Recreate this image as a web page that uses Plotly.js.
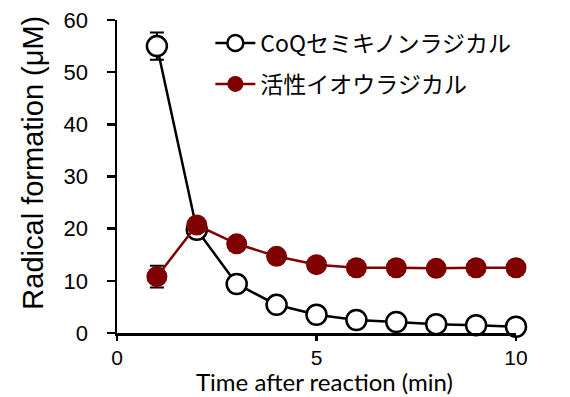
<!DOCTYPE html>
<html>
<head>
<meta charset="utf-8">
<script src="https://cdn.plot.ly/plotly-3.0.1.min.js"></script>
<style>html,body{margin:0;padding:0;background:#fff;}#chart{width:570px;height:397px;}</style>
</head>
<body>
<div id="chart"></div>
<script>
const timeMin = [1, 2, 3, 4, 5, 6, 7, 8, 9, 10];
const coqName = "CoQセミキノンラジカル";
const coqValues = [55.0, 19.8, 9.4, 5.4, 3.5, 2.5, 2.1, 1.7, 1.5, 1.2];
const coqErrors = [2.6, 0, 0, 0, 0, 0, 0, 0, 0, 0];
const sulfurName = "活性イオウラジカル";
const sulfurValues = [10.8, 20.7, 17.1, 14.7, 13.1, 12.5, 12.5, 12.4, 12.5, 12.5];
const sulfurErrors = [2.1, 0, 0, 0, 0, 0, 0, 0, 0, 0];
const xTicks = [0, 5, 10];
const yTicks = [0, 10, 20, 30, 40, 50, 60];
const xTitle = 'Time after reaction (min)';
const yTitle = 'Radical formation (μM)';

const traces = [
  {
    x: timeMin, y: coqValues, name: coqName, type: 'scatter', mode: 'lines+markers',
    legendgroup: 'a', cliponaxis: false,
    line: {color: '#000000', width: 2.5},
    marker: {size: 20, color: '#ffffff', line: {color: '#000000', width: 2.5}},
    error_y: {type: 'data', array: coqErrors, visible: true, color: '#000000', thickness: 2, width: 7}
  },
  {
    x: timeMin, y: sulfurValues, name: sulfurName, type: 'scatter', mode: 'lines+markers',
    legendgroup: 'b', cliponaxis: false,
    line: {color: '#7f0000', width: 2.5},
    marker: {size: 21, color: '#7f0000', line: {color: '#7f0000', width: 0}},
    error_y: {type: 'data', array: sulfurErrors, visible: true, color: '#000000', thickness: 2, width: 7}
  }
];

const layout = {
  width: 570, height: 397,
  margin: {l: 117, r: 54, t: 20, b: 64},
  paper_bgcolor: '#ffffff', plot_bgcolor: '#ffffff',
  showlegend: true,
  legend: {
    x: 0.234, y: 0.995, xanchor: 'left', yanchor: 'top',
    font: {family: '"Noto Sans CJK JP", "Noto Sans", sans-serif', size: 23, color: '#000000'},
    traceorder: 'grouped', tracegroupgap: 8, itemwidth: 40,
    bgcolor: 'rgba(0,0,0,0)'
  },
  annotations: [{
    text: yTitle, xref: 'paper', yref: 'paper', x: -0.21, y: 0.545,
    xanchor: 'center', yanchor: 'middle', textangle: -90, showarrow: false,
    font: {family: 'Liberation Sans, Arial, sans-serif', size: 29, color: '#000000'}
  }, {
    text: xTitle, xref: 'paper', yref: 'paper', x: 0.52, y: -0.2045,
    xanchor: 'center', yanchor: 'bottom', showarrow: false, borderpad: 0,
    font: {family: 'Lato, "Open Sans", sans-serif', size: 24, color: '#000000'}
  }],
  xaxis: {
    range: [0, 10], tickvals: xTicks, ticktext: xTicks.map(String),
    showgrid: false, zeroline: false, showline: true, linecolor: '#000000', linewidth: 2.5,
    ticks: 'outside', ticklen: 5, tickwidth: 2.5, tickcolor: '#000000',
    ticklabelstandoff: -1,
    tickfont: {family: 'Liberation Sans, Arial, sans-serif', size: 21, color: '#000000'}
  },
  yaxis: {
    range: [0, 60], tickvals: yTicks, ticktext: yTicks.map(String),
    showgrid: false, zeroline: false, showline: true, linecolor: '#000000', linewidth: 2.5,
    ticks: 'outside', ticklen: 8, tickwidth: 2.5, tickcolor: '#000000',
    ticklabelstandoff: 14,
    tickfont: {family: 'Liberation Sans, Arial, sans-serif', size: 22, color: '#000000'}
  }
};

Plotly.newPlot('chart', traces, layout, {displayModeBar: false, staticPlot: true});
</script>
</body>
</html>
